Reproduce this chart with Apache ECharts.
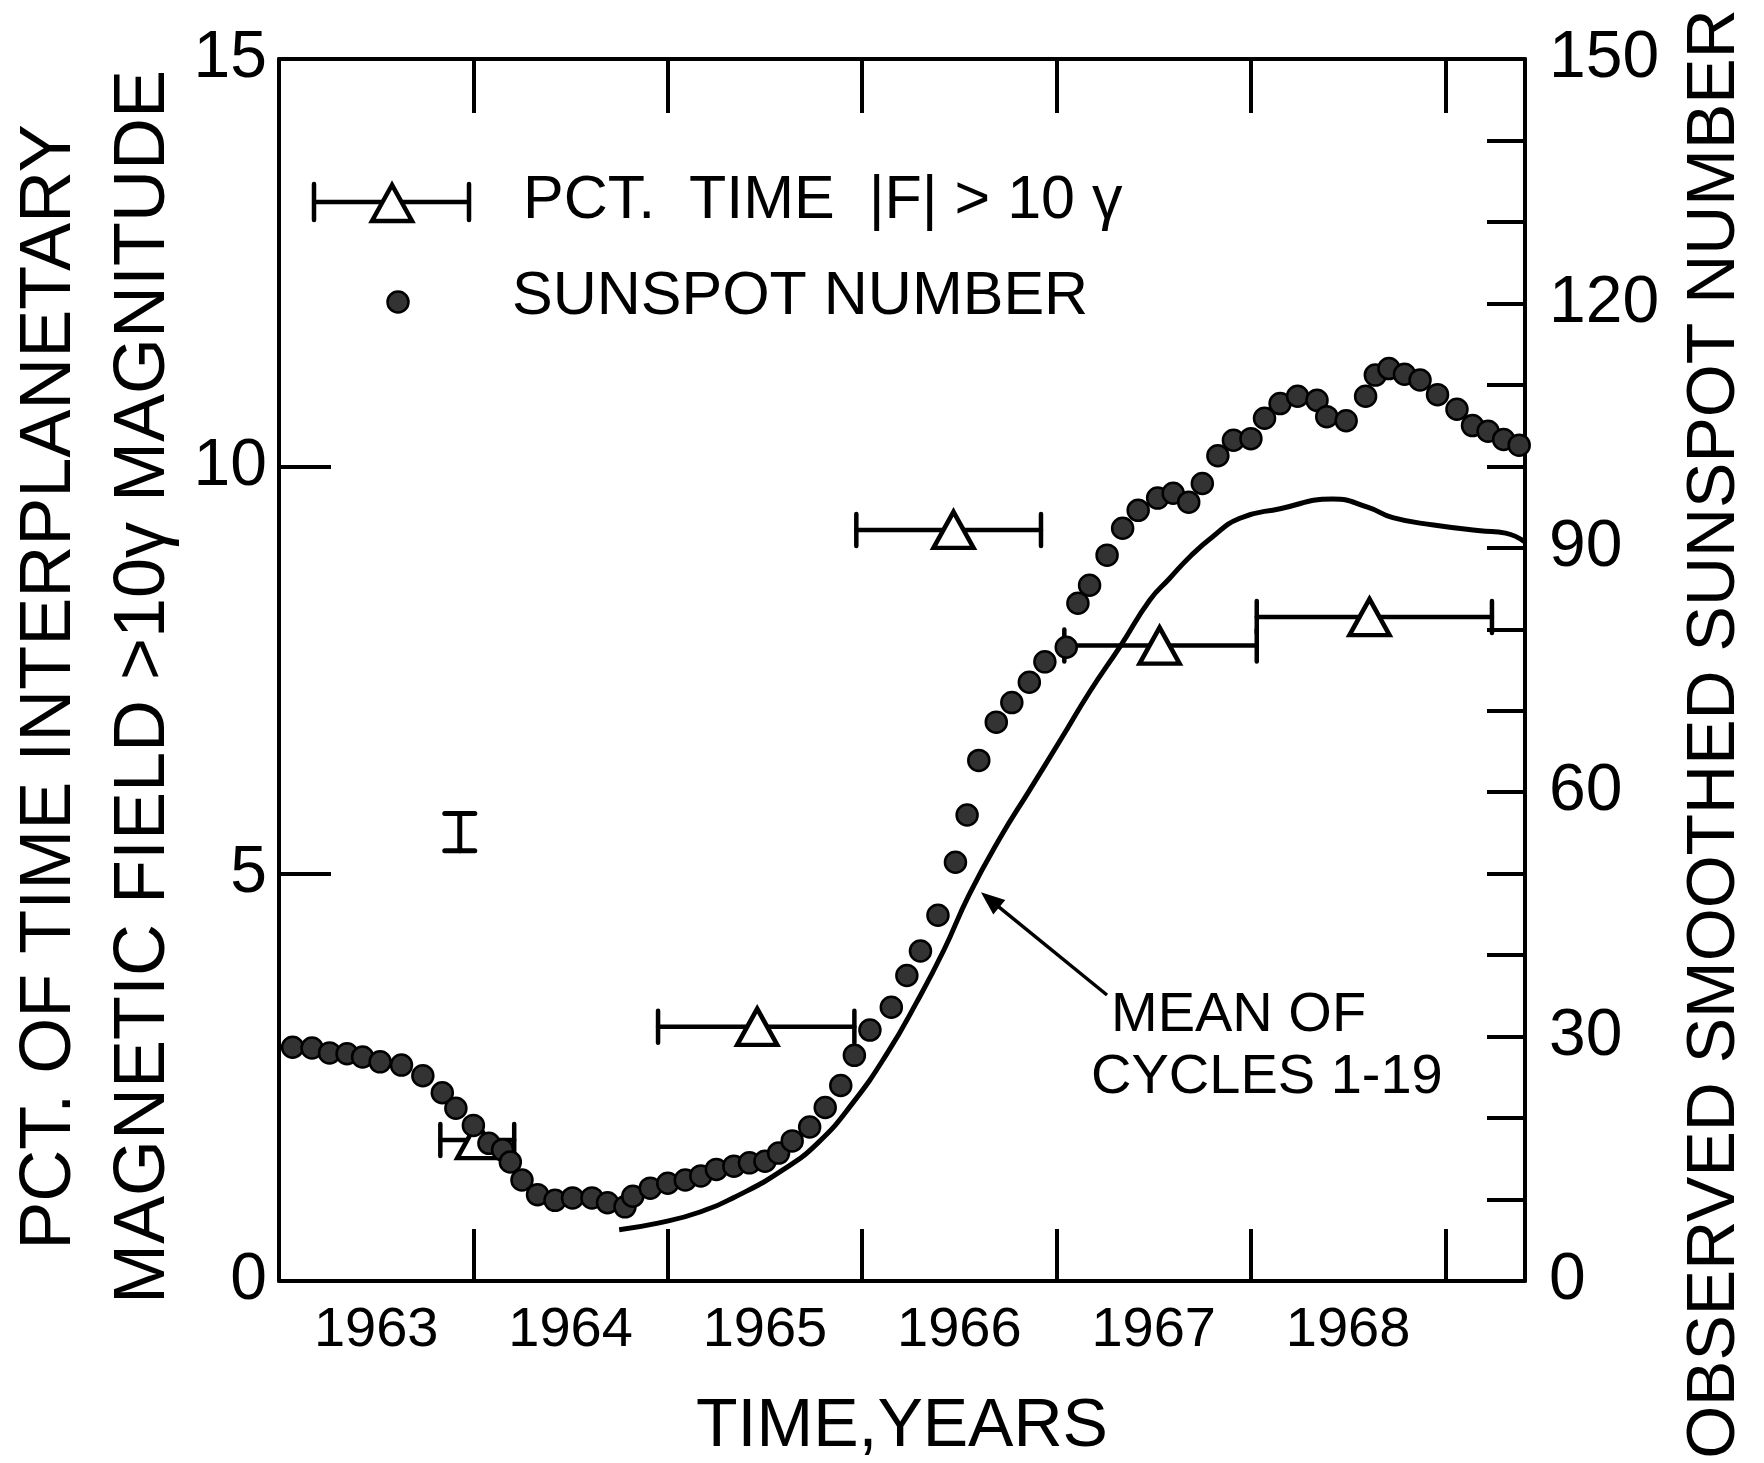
<!DOCTYPE html>
<html>
<head>
<meta charset="utf-8">
<title>Interplanetary field and sunspot number 1963-1969</title>
<script src="https://cdn.jsdelivr.net/npm/echarts@6.0.0/dist/echarts.min.js"></script>
<style>
  html, body { margin: 0; padding: 0; background: #fff; }
  #chart { width: 1764px; height: 1463px; }
</style>
</head>
<body>
<div id="chart"></div>
<script>
// observed smoothed sunspot number, one dot per month (right scale)
const sunspotYears = [
  1963.07, 1963.17, 1963.26, 1963.35, 1963.43, 1963.52, 1963.63, 1963.74, 1963.84, 1963.91,
  1964.00, 1964.08, 1964.15, 1964.19, 1964.25, 1964.33, 1964.42, 1964.51, 1964.61, 1964.69,
  1964.78, 1964.82, 1964.91, 1965.00, 1965.09, 1965.17, 1965.25, 1965.34, 1965.42, 1965.50,
  1965.57, 1965.64, 1965.73, 1965.81, 1965.89, 1965.96, 1966.04, 1966.15, 1966.23, 1966.30,
  1966.39, 1966.48, 1966.54, 1966.60, 1966.69, 1966.77, 1966.86, 1966.94, 1967.05, 1967.11,
  1967.17, 1967.26, 1967.34, 1967.42, 1967.52, 1967.60, 1967.68, 1967.75, 1967.83, 1967.91,
  1968.00, 1968.07, 1968.15, 1968.24, 1968.34, 1968.39, 1968.49, 1968.59, 1968.64, 1968.71,
  1968.79, 1968.87, 1968.96, 1969.06, 1969.14, 1969.22, 1969.30, 1969.38
];
const sunspotValues = [
  28.7, 28.6, 28.0, 27.9, 27.5, 26.9, 26.5, 25.2, 23.1, 21.2,
  19.1, 16.9, 16.1, 14.6, 12.4, 10.6, 9.9, 10.2, 10.2, 9.6,
  9.1, 10.4, 11.4, 12.0, 12.4, 12.9, 13.7, 14.1, 14.5, 14.7,
  15.7, 17.2, 18.9, 21.3, 24.0, 27.7, 30.8, 33.6, 37.5, 40.5,
  44.9, 51.4, 57.2, 63.9, 68.6, 71.0, 73.5, 76.0, 77.8, 83.2,
  85.4, 89.1, 92.4, 94.6, 96.1, 96.7, 95.6, 97.9, 101.3, 103.2,
  103.4, 105.9, 107.7, 108.6, 108.1, 106.1, 105.6, 108.6, 111.2, 112.0,
  111.3, 110.6, 108.8, 107.0, 105.0, 104.3, 103.3, 102.6
];

// mean of cycles 1-19 (solid curve, right scale)
const meanYears = [
  1964.75, 1964.95, 1965.17, 1965.37, 1965.59, 1965.77, 1965.95, 1966.13, 1966.28, 1966.42,
  1966.55, 1966.71, 1966.86, 1967.02, 1967.17, 1967.33, 1967.48, 1967.58, 1967.69, 1967.80,
  1967.94, 1968.15, 1968.42, 1968.60, 1968.73, 1968.94, 1969.18, 1969.31, 1969.41
];
const meanValues = [
  6.3, 7.1, 8.5, 10.6, 13.6, 16.9, 21.8, 28.0, 34.2, 40.6,
  47.4, 54.4, 60.2, 66.4, 72.3, 78.0, 83.6, 86.2, 89.0, 91.3,
  93.6, 94.8, 96.0, 95.0, 93.7, 92.8, 92.1, 91.8, 90.7
];

// pct. of time |F| > 10 gamma (left scale), with the span of each average
const pctYears  = [1964.02, 1965.46, 1966.47, 1967.53, 1968.61];
const pctFrom   = [1963.83, 1964.95, 1965.97, 1967.04, 1968.03];
const pctTo     = [1964.21, 1965.96, 1966.92, 1968.03, 1969.24];
const pctValues = [1.73, 3.12, 9.22, 7.80, 8.15];

// the lone error bar drawn in the upper left
const errYears = [1963.93];
const errLow   = [5.28];
const errHigh  = [5.74];

// the year names sit between the yearly ticks
const yearLabels = [1963.5, 1964.5, 1965.5, 1966.5, 1967.5, 1968.5];

const FONT = 'Liberation Sans';
const BLACK = '#000';
const DOT = '#333';

let chart = echarts.init(document.getElementById('chart'));

function hBar(params, api) {
  let y = api.value(1);
  let a = api.coord([api.value(0), y]);
  let b = api.coord([api.value(2), y]);
  let cap = 16;
  let style = { stroke: BLACK, lineWidth: 4.5, lineCap: 'round' };
  return {
    type: 'group',
    children: [
      { type: 'line', shape: { x1: a[0], y1: a[1], x2: b[0], y2: b[1] }, style: style },
      { type: 'line', shape: { x1: a[0], y1: a[1] - cap, x2: a[0], y2: a[1] + cap }, style: style },
      { type: 'line', shape: { x1: b[0], y1: b[1] - cap, x2: b[0], y2: b[1] + cap }, style: style }
    ]
  };
}

function vBar(params, api) {
  let x = api.value(0);
  let a = api.coord([x, api.value(1)]);
  let b = api.coord([x, api.value(2)]);
  let cap = 15;
  let style = { stroke: BLACK, lineWidth: 5, lineCap: 'round' };
  return {
    type: 'group',
    children: [
      { type: 'line', shape: { x1: a[0], y1: a[1], x2: b[0], y2: b[1] }, style: style },
      { type: 'line', shape: { x1: a[0] - cap, y1: a[1], x2: a[0] + cap, y2: a[1] }, style: style },
      { type: 'line', shape: { x1: b[0] - cap, y1: b[1], x2: b[0] + cap, y2: b[1] }, style: style }
    ]
  };
}

let lineStyle = { color: BLACK, width: 4 };
let tickStyle = { color: BLACK, width: 4 };
let labelStyle = { color: BLACK, fontFamily: FONT, fontSize: 66 };

// arrow from the "MEAN OF" note to the curve
let tail = [1107, 995], tip = [983, 894];
let dx = tip[0] - tail[0], dy = tip[1] - tail[1];
let len = Math.sqrt(dx * dx + dy * dy);
let ux = dx / len, uy = dy / len;
let head = [
  [tip[0], tip[1]],
  [tip[0] - ux * 20 - uy * 8, tip[1] - uy * 20 + ux * 8],
  [tip[0] - ux * 20 + uy * 8, tip[1] - uy * 20 - ux * 8]
];

let option = {
  backgroundColor: '#fff',
  animation: false,
  grid: {
    left: 279, right: 239, top: 59, bottom: 182,
    containLabel: false, outerBoundsMode: 'none'
  },
  xAxis: [
    {
      type: 'value', min: 1963, max: 1969.41, interval: 1, position: 'bottom',
      axisLine: { show: true, onZero: false, lineStyle: lineStyle },
      axisTick: { show: true, inside: true, length: 52, lineStyle: tickStyle },
      axisLabel: {
        customValues: yearLabels, margin: 22,
        formatter: function (v) { return String(Math.floor(v)); },
        color: BLACK, fontFamily: FONT, fontSize: 56
      },
      splitLine: { show: false },
      name: 'TIME,YEARS', nameLocation: 'middle', nameGap: 112, nameMoveOverlap: false,
      nameTextStyle: { color: BLACK, fontFamily: FONT, fontSize: 68 }
    },
    {
      type: 'value', min: 1963, max: 1969.41, interval: 1, position: 'top',
      axisLine: { show: true, onZero: false, lineStyle: lineStyle },
      axisTick: { show: true, inside: true, length: 54, lineStyle: tickStyle },
      axisLabel: { show: false },
      splitLine: { show: false }
    }
  ],
  yAxis: [
    {
      type: 'value', min: 0, max: 15, interval: 5, position: 'left',
      axisLine: { show: true, onZero: false, lineStyle: lineStyle },
      axisTick: { show: true, inside: true, length: 52, lineStyle: tickStyle },
      axisLabel: Object.assign({ margin: 12 }, labelStyle),
      splitLine: { show: false },
      name: 'PCT. OF TIME INTERPLANETARY\nMAGNETIC FIELD >10\u03b3 MAGNITUDE',
      nameLocation: 'middle', nameRotate: 90, nameGap: 88, nameMoveOverlap: false,
      nameTextStyle: {
        color: BLACK, fontFamily: FONT, fontSize: 72, lineHeight: 94,
        padding: [0, 34, 0, 0]
      }
    },
    {
      type: 'value', min: 0, max: 150, interval: 10, position: 'right',
      axisLine: { show: true, onZero: false, lineStyle: lineStyle },
      axisTick: { show: true, inside: true, length: 38, lineStyle: tickStyle },
      axisLabel: Object.assign({
        margin: 24,
        formatter: function (v) { return v % 30 === 0 ? String(v) : ''; }
      }, labelStyle),
      splitLine: { show: false },
      name: 'OBSERVED SMOOTHED SUNSPOT NUMBER',
      nameLocation: 'middle', nameRotate: 90, nameGap: 150, nameMoveOverlap: false,
      nameTextStyle: {
        color: BLACK, fontFamily: FONT, fontSize: 68, lineHeight: 80,
        padding: [0, 128, 0, 0]
      }
    }
  ],
  series: [
    {
      name: 'span', type: 'custom', xAxisIndex: 0, yAxisIndex: 0,
      renderItem: hBar, z: 2,
      encode: { x: [0, 2], y: 1 },
      data: pctFrom.map(function (f, i) { return [f, pctValues[i], pctTo[i]]; })
    },
    {
      name: 'PCT. TIME |F| > 10\u03b3', type: 'scatter', xAxisIndex: 0, yAxisIndex: 0,
      symbol: 'triangle', symbolSize: [40, 36], z: 3,
      itemStyle: { color: '#fff', borderColor: BLACK, borderWidth: 4.5, opacity: 1 },
      data: pctYears.map(function (x, i) { return [x, pctValues[i]]; })
    },
    {
      name: 'error', type: 'custom', xAxisIndex: 0, yAxisIndex: 0,
      renderItem: vBar, z: 2,
      encode: { x: 0, y: [1, 2] },
      data: errYears.map(function (x, i) { return [x, errLow[i], errHigh[i]]; })
    },
    {
      name: 'MEAN OF CYCLES 1-19', type: 'line', xAxisIndex: 0, yAxisIndex: 1,
      showSymbol: false, smooth: 0.5, z: 4,
      lineStyle: { color: BLACK, width: 5 },
      data: meanYears.map(function (x, i) { return [x, meanValues[i]]; })
    },
    {
      name: 'SUNSPOT NUMBER', type: 'scatter', xAxisIndex: 0, yAxisIndex: 1,
      symbol: 'circle', symbolSize: 21, z: 5,
      itemStyle: { color: DOT, borderColor: BLACK, borderWidth: 2.5, opacity: 1 },
      data: sunspotYears.map(function (x, i) { return [x, sunspotValues[i]]; })
    }
  ],
  graphic: [
    // legend, first entry
    { type: 'line', shape: { x1: 314, y1: 202, x2: 469, y2: 202 }, style: { stroke: BLACK, lineWidth: 4.5 } },
    { type: 'line', shape: { x1: 314, y1: 184, x2: 314, y2: 220 }, style: { stroke: BLACK, lineWidth: 4.5, lineCap: 'round' } },
    { type: 'line', shape: { x1: 469, y1: 184, x2: 469, y2: 220 }, style: { stroke: BLACK, lineWidth: 4.5, lineCap: 'round' } },
    { type: 'polygon', shape: { points: [[392, 185], [372, 221], [412, 221]] }, style: { fill: '#fff', stroke: BLACK, lineWidth: 4.5 } },
    { type: 'text', left: 523, top: 171, style: { text: 'PCT.  TIME  |F| > 10 \u03b3', fill: BLACK, font: '61px "Liberation Sans"' } },
    // legend, second entry
    { type: 'circle', shape: { cx: 398, cy: 302, r: 10.5 }, style: { fill: DOT, stroke: BLACK, lineWidth: 2.5 } },
    { type: 'text', left: 512, top: 267, style: { text: 'SUNSPOT NUMBER', fill: BLACK, font: '61px "Liberation Sans"' } },
    // note on the mean curve
    { type: 'text', left: 1111, top: 988, style: { text: 'MEAN OF', fill: BLACK, font: '56px "Liberation Sans"' } },
    { type: 'text', left: 1091, top: 1050, style: { text: 'CYCLES 1-19', fill: BLACK, font: '56px "Liberation Sans"' } },
    { type: 'polyline', shape: { points: [tail, [tip[0] - ux * 14, tip[1] - uy * 14]] }, style: { stroke: BLACK, lineWidth: 3.5 } },
    { type: 'polygon', shape: { points: head }, style: { fill: BLACK, stroke: BLACK, lineWidth: 2 } }
  ]
};

chart.setOption(option);
</script>
</body>
</html>
